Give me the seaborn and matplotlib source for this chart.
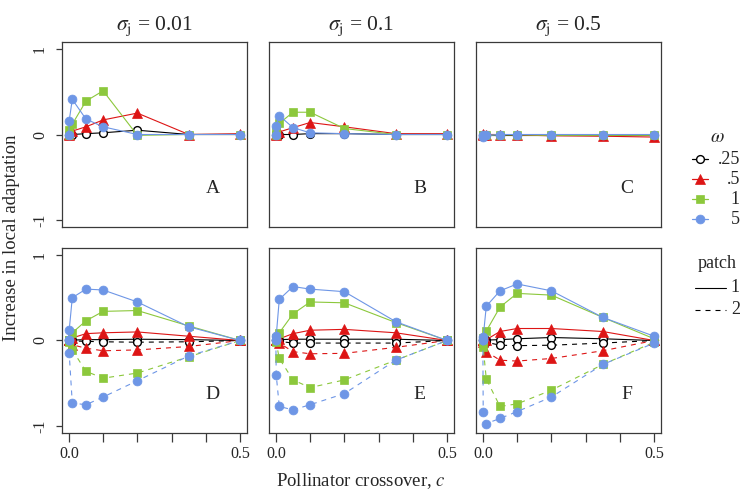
import matplotlib
matplotlib.use("Agg")
import matplotlib.pyplot as plt
import pandas as pd
import seaborn as sns

# --------------------------------------------------
# Data
# --------------------------------------------------
c_values = [0, 0.001, 0.01, 0.05, 0.1, 0.2, 0.35, 0.5]
omega_labels = [".25", ".5", "1", "5"]
sigma_labels = ["0.01", "0.1", "0.5"]
top_letters = ["A", "B", "C"]
bottom_letters = ["D", "E", "F"]

# top row: one curve per omega
A_025 = [0, 0.0, 0.0, 0.01, 0.02, 0.05, 0.0, 0.0]
A_05 = [0, 0.01, 0.04, 0.09, 0.17, 0.25, 0.0, 0.01]
A_1 = [0, 0.05, 0.12, 0.39, 0.51, -0.01, 0.0, 0.0]
A_5 = [0, 0.16, 0.41, 0.18, 0.09, 0.0, 0.0, 0.0]

B_025 = [0, 0.0, 0.0, 0.0, 0.01, 0.01, 0.0, 0.0]
B_05 = [0, 0.01, 0.03, 0.08, 0.14, 0.09, 0.01, 0.01]
B_1 = [0, 0.04, 0.13, 0.26, 0.26, 0.07, 0.0, 0.0]
B_5 = [0, 0.10, 0.22, 0.08, 0.02, 0.01, 0.0, 0.0]

C_025 = [0, 0.0, 0.0, 0.0, 0.0, 0.0, 0.0, 0.0]
C_05 = [0, 0.01, 0.0, 0.0, -0.005, -0.015, -0.02, -0.03]
C_1 = [0, -0.01, -0.01, -0.005, -0.005, -0.01, -0.01, -0.01]
C_5 = [0, -0.03, -0.01, 0.0, 0.0, 0.0, 0.0, 0.0]

# bottom row: patch 1 (solid) and patch 2 (dashed)
D_025_p1 = [0, 0.0, 0.005, 0.01, 0.01, 0.015, 0.01, 0]
D_025_p2 = [0, 0.0, -0.005, -0.01, -0.015, -0.02, -0.015, 0]
D_05_p1 = [0, 0.0, 0.03, 0.08, 0.09, 0.10, 0.05, 0]
D_05_p2 = [0, 0.0, -0.05, -0.09, -0.12, -0.11, -0.07, 0]
D_1_p1 = [0, 0.01, 0.09, 0.23, 0.34, 0.35, 0.17, 0]
D_1_p2 = [0, -0.02, -0.11, -0.36, -0.44, -0.38, -0.19, 0]
D_5_p1 = [0, 0.12, 0.50, 0.60, 0.59, 0.45, 0.16, 0]
D_5_p2 = [0, -0.15, -0.73, -0.75, -0.66, -0.47, -0.18, 0]

E_025_p1 = [0, 0.0, 0.01, 0.015, 0.015, 0.015, 0.015, 0]
E_025_p2 = [0, 0.0, -0.01, -0.03, -0.03, -0.03, -0.03, 0]
E_05_p1 = [0, 0.0, 0.02, 0.08, 0.12, 0.13, 0.09, 0]
E_05_p2 = [0, 0.0, -0.03, -0.13, -0.155, -0.15, -0.08, 0]
E_1_p1 = [0, 0.03, 0.09, 0.31, 0.45, 0.44, 0.21, 0]
E_1_p2 = [0, -0.02, -0.21, -0.46, -0.55, -0.46, -0.23, 0]
E_5_p1 = [0, 0.05, 0.48, 0.63, 0.60, 0.57, 0.22, 0]
E_5_p2 = [0, -0.40, -0.77, -0.81, -0.75, -0.62, -0.23, 0]

F_025_p1 = [0, 0.0, 0.005, 0.01, 0.02, 0.035, 0.02, 0]
F_025_p2 = [0, 0.0, -0.02, -0.055, -0.06, -0.055, -0.03, 0]
F_05_p1 = [0, 0.0, 0.01, 0.105, 0.14, 0.14, 0.105, 0]
F_05_p2 = [0, -0.02, -0.13, -0.23, -0.24, -0.21, -0.12, 0]
F_1_p1 = [0, 0.03, 0.11, 0.39, 0.55, 0.53, 0.27, 0.02]
F_1_p2 = [0, -0.08, -0.45, -0.77, -0.74, -0.58, -0.28, -0.02]
F_5_p1 = [0, 0.04, 0.40, 0.58, 0.66, 0.58, 0.27, 0.05]
F_5_p2 = [0, -0.83, -0.97, -0.91, -0.83, -0.66, -0.28, -0.03]

top_series = {
    "A": [A_025, A_05, A_1, A_5],
    "B": [B_025, B_05, B_1, B_5],
    "C": [C_025, C_05, C_1, C_5],
}
bottom_series = {
    "D": [(D_025_p1, D_025_p2), (D_05_p1, D_05_p2), (D_1_p1, D_1_p2), (D_5_p1, D_5_p2)],
    "E": [(E_025_p1, E_025_p2), (E_05_p1, E_05_p2), (E_1_p1, E_1_p2), (E_5_p1, E_5_p2)],
    "F": [(F_025_p1, F_025_p2), (F_05_p1, F_05_p2), (F_1_p1, F_1_p2), (F_5_p1, F_5_p2)],
}

records = []
for letter, series in top_series.items():
    for om, vals in zip(omega_labels, series):
        for cv, v in zip(c_values, vals):
            records.append((letter, om, "1", cv, v))
for letter, series in bottom_series.items():
    for om, pair in zip(omega_labels, series):
        for patch, vals in zip(["1", "2"], pair):
            for cv, v in zip(c_values, vals):
                records.append((letter, om, patch, cv, v))
df = pd.DataFrame(records, columns=["panel", "omega", "patch", "c", "value"])

# --------------------------------------------------
# Styles
# --------------------------------------------------
omega_style = {
    ".25": dict(color="black", marker="o", markersize=5.6, markerfacecolor="white",
                markeredgecolor="black", markeredgewidth=1.0),
    ".5": dict(color="#DD1515", marker="^", markersize=6.8, markerfacecolor="#DD1515",
               markeredgecolor="#DD1515", markeredgewidth=0.5),
    "1": dict(color="#8CC83C", marker="s", markersize=5.2, markerfacecolor="#8CC83C",
              markeredgecolor="#8CC83C", markeredgewidth=0.5),
    "5": dict(color="#6E96E6", marker="o", markersize=6.4, markerfacecolor="#6E96E6",
              markeredgecolor="#6E96E6", markeredgewidth=0.5),
}
patch_dash = {"1": "-", "2": (0, (4.5, 4.5))}

sns.set_style("white")
plt.rcParams["font.family"] = ["Liberation Serif", "DejaVu Serif"]
plt.rcParams["mathtext.fontset"] = "stix"
plt.rcParams["axes.unicode_minus"] = False

# --------------------------------------------------
# Figure
# --------------------------------------------------
fig, axes = plt.subplots(2, 3, figsize=(7.45, 4.95), dpi=100)
fig.subplots_adjust(left=62 / 745, right=661 / 745, top=1 - 42 / 495,
                    bottom=1 - 433 / 495, wspace=0.119, hspace=0.1135)

for row, letters in enumerate([top_letters, bottom_letters]):
    for col, letter in enumerate(letters):
        ax = axes[row, col]
        for om in omega_labels:
            for patch in ["1", "2"]:
                sub = df[(df["panel"] == letter) & (df["omega"] == om) & (df["patch"] == patch)]
                if sub.empty:
                    continue
                sns.lineplot(
                    data=sub, x="c", y="value", ax=ax,
                    estimator=None, sort=False, legend=False,
                    linewidth=0.8, linestyle=patch_dash[patch],
                    **omega_style[om]
                )

        ax.set_xlim(-0.02, 0.52)
        ax.set_ylim(-1.08, 1.08)
        ax.set_xlabel("")
        ax.set_ylabel("")
        for sp in ax.spines.values():
            sp.set_visible(True)
            sp.set_color("#3a3a3a")
            sp.set_linewidth(0.9)

        ax.text(0.815, 0.21, letter, transform=ax.transAxes, ha="center",
                va="center", fontsize=14)

        # x axis: ticks only on bottom row
        ax.set_xticks([0, 0.1, 0.2, 0.3, 0.4, 0.5],
                      labels=["0.0", "", "", "", "", "0.5"])
        if row == 0:
            ax.tick_params(axis="x", bottom=False, labelbottom=False)
        else:
            ax.tick_params(axis="x", bottom=True, direction="out", length=6.5,
                           width=0.9, color="#3a3a3a", labelsize=11.5, pad=3)

        # y axis: ticks only on left column
        ax.set_yticks([-1, 0, 1], labels=["-1", "0", "1"])
        if col == 0:
            ax.tick_params(axis="y", left=True, direction="out", length=4,
                           width=0.9, color="#3a3a3a", labelsize=11.5,
                           labelrotation=90, pad=6)
            for t in ax.get_yticklabels():
                t.set_verticalalignment("center")
        else:
            ax.tick_params(axis="y", left=False, labelleft=False)

        if row == 0:
            ax.set_title(r"$\sigma_{\mathrm{j}}$ = " + sigma_labels[col],
                         fontsize=15.5, pad=9)

fig.text(12 / 745, 1 - 238 / 495, "Increase in local adaptation", rotation=90,
         ha="center", va="center", fontsize=13.5)
fig.text(361 / 745, 1 - 481 / 495, "Pollinator crossover, $c$", ha="center",
         va="center", fontsize=13.5)

# --------------------------------------------------
# Legend (drawn in a figure-sized pixel frame)
# --------------------------------------------------
lax = fig.add_axes([0, 0, 1, 1], facecolor="none")
lax.set_xlim(0, 745)
lax.set_ylim(495, 0)
lax.axis("off")

lax.text(717, 137, r"$\omega$", ha="center", va="center", fontsize=14)
for i, om in enumerate(omega_labels):
    yk = 159 + i * 20
    st = omega_style[om]
    lax.plot([692, 708], [yk, yk], color=st["color"], linewidth=0.9)
    lax.plot([700], [yk], linestyle="none", **st)
    lax.text(740, yk, om, ha="right", va="center", fontsize=13)

lax.text(717, 263, "patch", ha="center", va="center", fontsize=13)
for i, patch in enumerate(["1", "2"]):
    yk = 288 + i * 22
    lax.plot([695, 726], [yk, yk], color="black", linewidth=0.8,
             linestyle=patch_dash[patch])
    lax.text(740, yk, patch, ha="right", va="center", fontsize=13)

fig.savefig("out.png", dpi=100)
